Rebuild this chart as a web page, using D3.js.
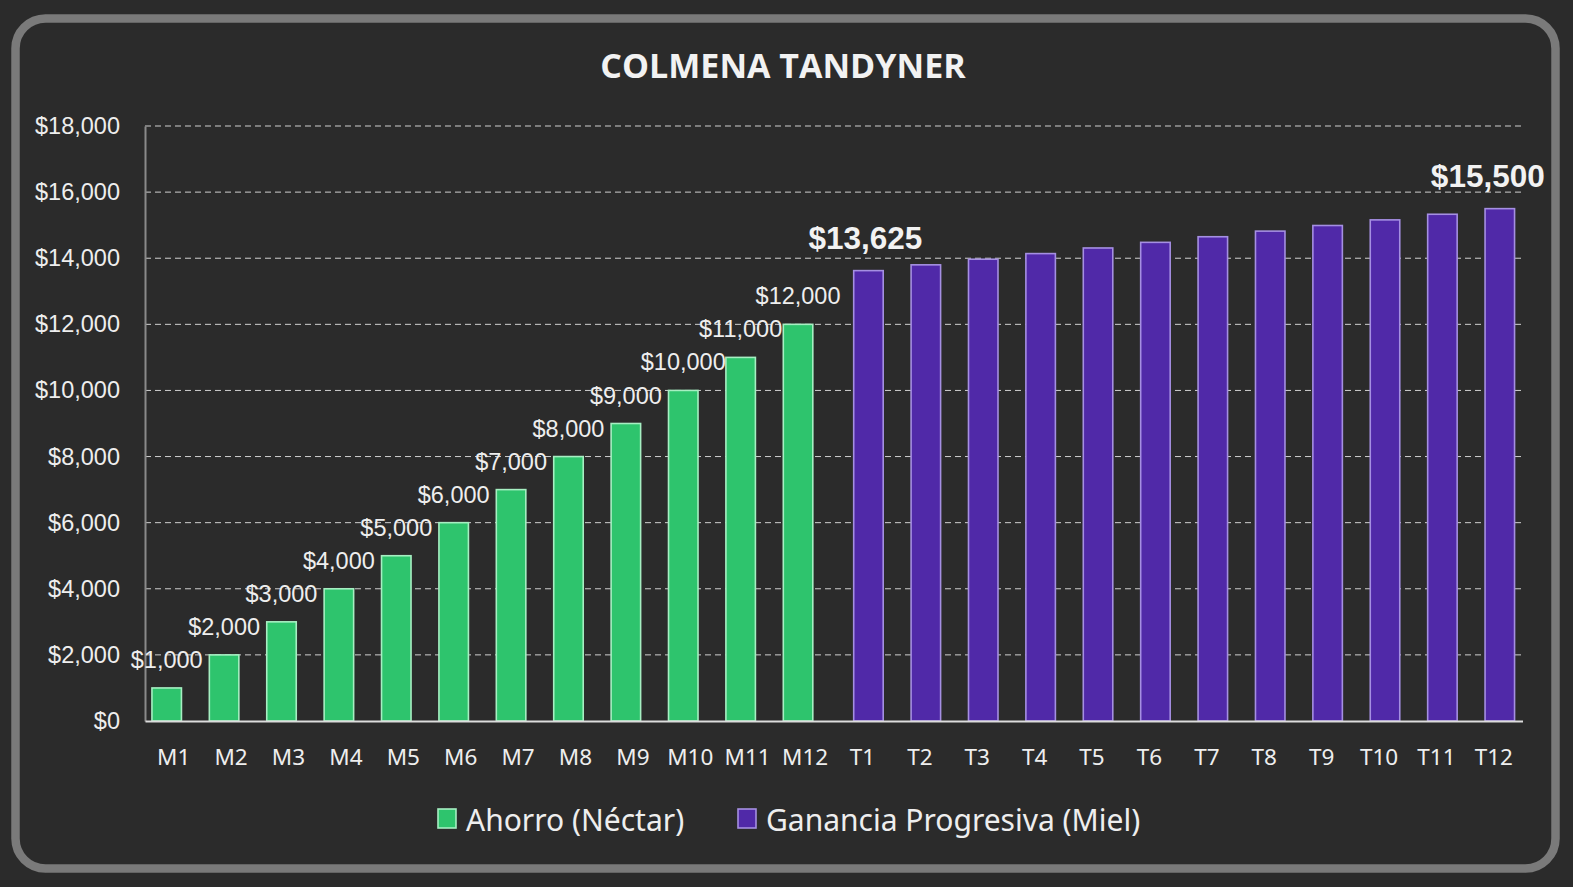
<!DOCTYPE html>
<html>
<head>
<meta charset="utf-8">
<script src="https://cdn.jsdelivr.net/npm/d3@7/dist/d3.min.js"></script>
<style>
  html, body { margin: 0; padding: 0; background: #2b2b2b; }
  svg { display: block; }
</style>
</head>
<body>
<svg id="chart" width="1573" height="887"></svg>
<script>
// ---- data ----
const title = "COLMENA TANDYNER";
const categories = ["M1","M2","M3","M4","M5","M6","M7","M8","M9","M10","M11","M12",
                    "T1","T2","T3","T4","T5","T6","T7","T8","T9","T10","T11","T12"];
const ahorro = [1000,2000,3000,4000,5000,6000,7000,8000,9000,10000,11000,12000,
                null,null,null,null,null,null,null,null,null,null,null,null];
const ganancia = [null,null,null,null,null,null,null,null,null,null,null,null,
                  13625,13800,13970,14140,14310,14480,14650,14820,14990,15160,15330,15500];
const yTicks = [0,2000,4000,6000,8000,10000,12000,14000,16000,18000];
const seriesNames = ["Ahorro (Néctar)", "Ganancia Progresiva (Miel)"];
const highlightIdx = [12, 23];

// ---- setup ----
const svg = d3.select("#chart");
const W = 1573, H = 887;
svg.append("rect").attr("width", W).attr("height", H).attr("fill", "#2b2b2b");
svg.append("rect").attr("x", 15.5).attr("y", 18.5).attr("width", 1540).attr("height", 850)
  .attr("rx", 30).attr("ry", 30).attr("fill", "#2b2b2b")
  .attr("stroke", "#7a7a7a").attr("stroke-width", 8.5);

const fmt = d3.format("$,.0f");
const pLeft = 145, pRight = 1522.5, pTop = 126, pBottom = 721;
const x = d3.scaleBand().domain(categories).range([pLeft, pRight]).padding(0);
const y = d3.scaleLinear().domain([0, 18000]).range([pBottom, pTop]);
const barW = 29.5;
const offs = [-7, 6];

// title
svg.append("text").attr("x", 783).attr("y", 78).attr("text-anchor", "middle")
  .attr("fill", "#f2f2f2").attr("font-family", "'Open Sans', 'Noto Sans', sans-serif")
  .attr("font-weight", 700).attr("font-size", 34).text(title);

// gridlines
svg.append("g").selectAll("line").data(yTicks.filter(d => d > 0)).join("line")
  .attr("x1", pLeft).attr("x2", pRight)
  .attr("y1", d => y(d)).attr("y2", d => y(d))
  .attr("stroke", "#d0d0d0").attr("stroke-width", 1).attr("stroke-dasharray", "6,4");

// y axis
const yAxis = d3.axisLeft(y).tickValues(yTicks).tickFormat(fmt).tickSize(0).tickPadding(25);
const gy = svg.append("g").attr("transform", `translate(${pLeft},0)`).call(yAxis);
gy.select(".domain").attr("stroke", "#8a8a8a").attr("stroke-width", 2);
gy.selectAll("text").attr("fill", "#eeeeee").attr("font-size", 23.5)
  .attr("font-family", "'Liberation Sans', Arial, sans-serif");

// bars
const series = [
  {vals: ahorro, fill: "#2ec46d", stroke: "#a6efc2", off: offs[0]},
  {vals: ganancia, fill: "#5029a8", stroke: "#a58fe2", off: offs[1]}
];
series.forEach(s => {
  const data = categories.map((c, i) => ({c, v: s.vals[i], i})).filter(d => d.v != null);
  svg.append("g").selectAll("rect").data(data).join("rect")
    .attr("x", d => x(d.c) + x.bandwidth() / 2 + s.off - barW / 2)
    .attr("y", d => y(d.v))
    .attr("width", barW)
    .attr("height", d => y(0) - y(d.v))
    .attr("fill", s.fill).attr("stroke", s.stroke).attr("stroke-width", 1.6);
});

// x axis
const xAxis = d3.axisBottom(x).tickSize(0).tickPadding(28);
const gx = svg.append("g").attr("transform", `translate(0,${pBottom})`).call(xAxis);
gx.select(".domain").attr("stroke", "#dcdcdc").attr("stroke-width", 2);
gx.selectAll("text").attr("fill", "#eeeeee").attr("font-size", 22.5)
  .attr("font-family", "'Noto Sans', 'Open Sans', sans-serif");

// data labels (green)
const greenData = categories.map((c, i) => ({c, v: ahorro[i]})).filter(d => d.v != null);
svg.append("g").selectAll("text").data(greenData).join("text")
  .attr("x", d => x(d.c) + x.bandwidth() / 2 + offs[0])
  .attr("y", d => y(d.v) - 20)
  .attr("text-anchor", "middle").attr("fill", "#eeeeee").attr("font-size", 23.5)
  .attr("font-family", "'Liberation Sans', Arial, sans-serif")
  .text(d => fmt(d.v));

// highlighted labels (purple)
svg.append("g").selectAll("text").data(highlightIdx).join("text")
  .attr("x", (i, k) => x(categories[i]) + x.bandwidth() / 2 + offs[1] + (k === 1 ? -12 : -3))
  .attr("y", i => y(ganancia[i]) - 22)
  .attr("text-anchor", "middle").attr("fill", "#f2f2f2").attr("font-size", 31.5)
  .attr("font-weight", 700)
  .attr("font-family", "'Liberation Sans', Arial, sans-serif")
  .text(i => fmt(ganancia[i]));

// legend
const legend = [
  {name: seriesNames[0], fill: "#2ec46d", stroke: "#a6efc2", x: 437},
  {name: seriesNames[1], fill: "#5029a8", stroke: "#a58fe2", x: 737}
];
const lg = svg.append("g");
legend.forEach(l => {
  lg.append("rect").attr("x", l.x + 1).attr("y", 809).attr("width", 18).attr("height", 19)
    .attr("fill", l.fill).attr("stroke", l.stroke).attr("stroke-width", 1.6);
  lg.append("text").attr("x", l.x + 29).attr("y", 831)
    .attr("fill", "#eeeeee").attr("font-size", 30)
    .attr("font-family", "'Noto Sans', 'Open Sans', sans-serif")
    .text(l.name);
});
</script>
</body>
</html>
